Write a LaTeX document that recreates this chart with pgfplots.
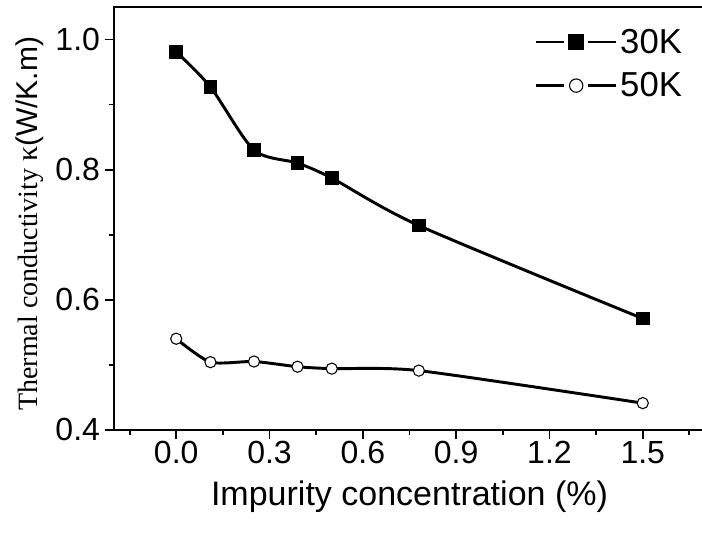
\documentclass[border=0pt]{standalone}
\usepackage{pgfplots}
\pgfplotsset{compat=1.18}
\usepackage{fontspec}
\setmainfont{Liberation Sans}
\newfontfamily\seriffont{Liberation Serif}
\begin{document}
\begin{tikzpicture}
\begin{axis}[
  name=ax,
  scale only axis=true,
  width=443pt, height=317pt,
  xmin=-0.2, xmax=1.7,
  ymin=0.4, ymax=1.05,
  xtick={0,0.3,0.6,0.9,1.2,1.5},
  ytick={0.4,0.6,0.8,1.0},
  minor xtick={-0.15,0.15,0.45,0.75,1.05,1.35,1.65},
  minor ytick={0.5,0.7,0.9},
  tick pos=left,
  tick align=outside,
  major tick length=7pt,
  minor tick length=4pt,
  every tick/.style={line width=1.4pt, black},
  axis line style={line width=1.4pt},
  /pgf/number format/assume math mode=true,
  /pgf/number format/fixed,
  /pgf/number format/fixed zerofill,
  /pgf/number format/precision=1,
  tick label style={font=\fontsize{24}{28}\selectfont},
  xticklabel style={yshift=2pt},
  xlabel={Impurity concentration (\%)},
  xlabel style={font=\fontsize{25.5}{30}\selectfont, yshift=-6pt},
  ylabel={{\seriffont\fontsize{21}{24}\selectfont Thermal conductivity \fontsize{22.5}{24}\selectfont κ}{\fontsize{22.5}{24}\selectfont(W/K.m)}},
  ylabel style={yshift=2pt, xshift=-4pt},
  legend style={draw=none, fill=none, at={(rel axis cs:0.966,0.955)}, anchor=north east,
    font=\fontsize{26}{30}\selectfont, row sep=9pt, inner sep=0pt},
  legend cell align=left,
  legend image code/.code={
    \pgfsetlinewidth{2pt}
    \draw[line width=2pt, black] (0pt,0pt) -- (21pt,0pt);
    \draw[line width=2pt, black] (39pt,0pt) -- (60pt,0pt);
    \path[mark size=5pt] plot coordinates {(30pt,0pt)};
  },
]
\addplot[black, line width=2.2pt, smooth, tension=0.45, mark=square*, mark size=4pt,
  mark options={solid, fill=black}]
  coordinates {(0,0.981) (0.11,0.927) (0.25,0.830) (0.39,0.810) (0.5,0.787) (0.78,0.714) (1.5,0.571)};
\addlegendentry{30K}
\addplot[black, line width=2.2pt, smooth, tension=0.4, mark=*, mark size=4.2pt,
  mark options={solid, fill=white, line width=0.8pt}]
  coordinates {(0,0.540) (0.11,0.504) (0.25,0.505) (0.39,0.497) (0.5,0.494) (0.78,0.491) (1.5,0.441)};
\addlegendentry{50K}
\coordinate (bl) at (rel axis cs:-0.193,-0.262);
\coordinate (tr) at (rel axis cs:0.995,1.0165);
\end{axis}
\pgfresetboundingbox
\path[use as bounding box] (bl) rectangle (tr);
\end{tikzpicture}
\end{document}
